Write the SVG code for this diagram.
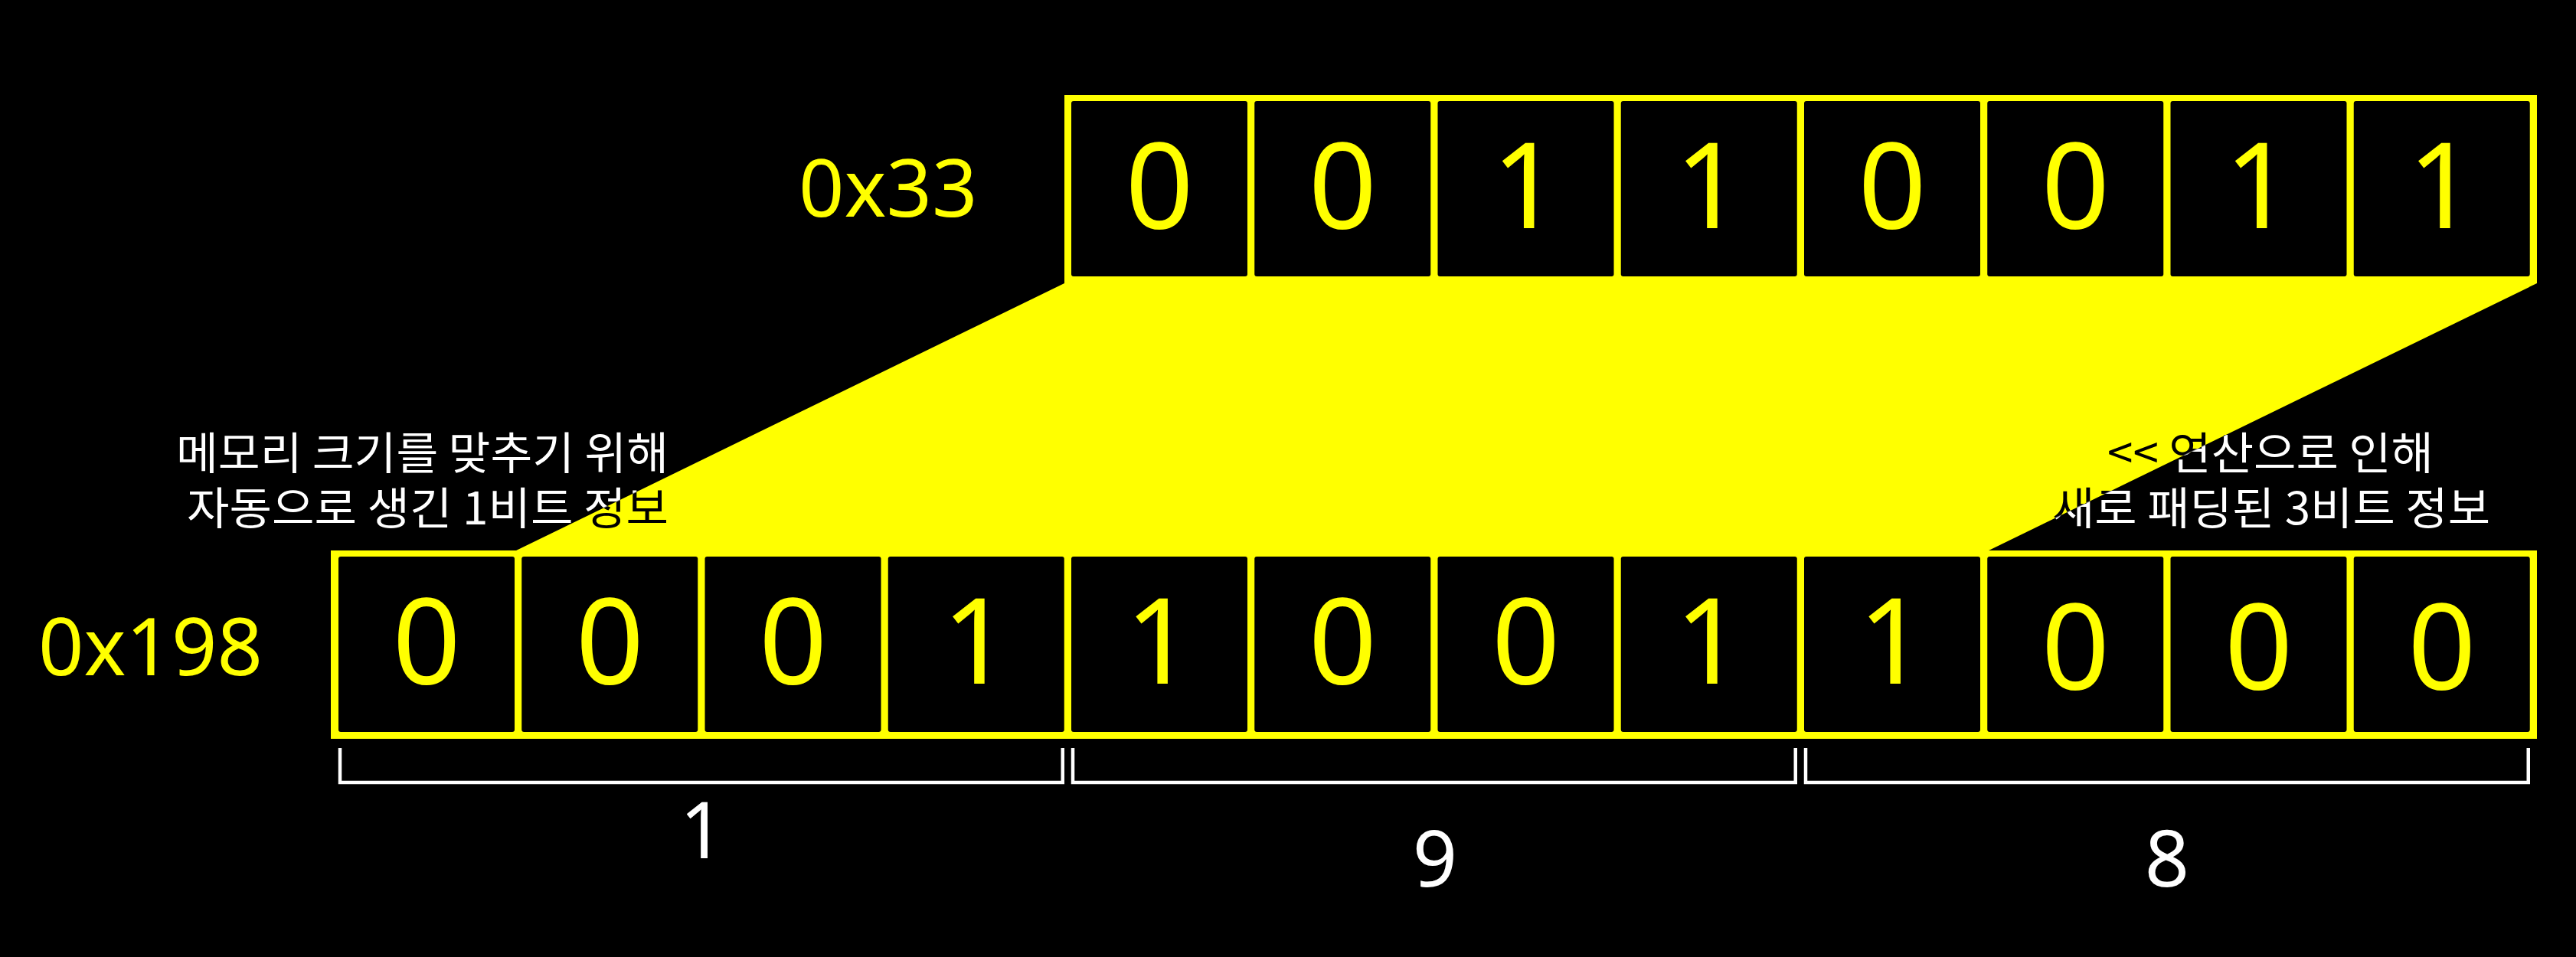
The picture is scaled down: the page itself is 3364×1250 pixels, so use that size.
<svg xmlns="http://www.w3.org/2000/svg" width="3364" height="1250" viewBox="0 0 3364 1250">
<defs>
<style>
.frame{fill:#ffff00}
.cell{fill:#000}
.bit{font-family:"Noto Sans","Liberation Sans",sans-serif;font-size:156px;fill:#ffff00;text-anchor:middle}
.hex{font-family:"Noto Sans","Liberation Sans",sans-serif;font-size:104px;fill:#ffff00}
.num{font-family:"Noto Sans","Liberation Sans",sans-serif;font-size:102px;fill:#fff;text-anchor:middle}
.note{font-family:"Noto Sans CJK KR","Noto Sans",sans-serif;font-size:58px;fill:url(#inv)}
.brk{fill:none;stroke:#fff;stroke-width:4.5}
</style>
<pattern id="inv" patternUnits="userSpaceOnUse" x="0" y="0" width="3364" height="1250">
<rect width="3364" height="1250" fill="#fff"/>
<polygon points="1390,370 3313,370 2595,720 672,720" fill="#000"/>
</pattern>
</defs>
<rect width="3364" height="1250" fill="#000"/>
<g id="connectors">
<polygon id="shift" points="1390,370 3313,370 2595,720 672,720" fill="#ffff00"/>
</g>
<g id="row-0x33">
<rect class="frame" x="1390" y="124" width="1923" height="246"/>
<rect class="cell" x="1399" y="132" width="230" height="229" rx="3"/>
<rect class="cell" x="1638.25" y="132" width="230" height="229" rx="3"/>
<rect class="cell" x="1877.5" y="132" width="230" height="229" rx="3"/>
<rect class="cell" x="2116.75" y="132" width="230" height="229" rx="3"/>
<rect class="cell" x="2356" y="132" width="230" height="229" rx="3"/>
<rect class="cell" x="2595.25" y="132" width="230" height="229" rx="3"/>
<rect class="cell" x="2834.5" y="132" width="230" height="229" rx="3"/>
<rect class="cell" x="3073.75" y="132" width="230" height="229" rx="3"/>
<text class="bit" x="1514" y="298">0</text>
<text class="bit" x="1753.25" y="298">0</text>
<text class="bit" x="1992.5" y="298">1</text>
<text class="bit" x="2231.75" y="298">1</text>
<text class="bit" x="2471" y="298">0</text>
<text class="bit" x="2710.25" y="298">0</text>
<text class="bit" x="2949.5" y="298">1</text>
<text class="bit" x="3188.75" y="298">1</text>
</g>
<g id="label-0x33"><text class="hex" x="1043" y="283">0x33</text></g>
<g id="row-0x198">
<rect class="frame" x="432" y="719" width="2881" height="246"/>
<rect class="cell" x="442" y="727" width="230" height="229" rx="3"/>
<rect class="cell" x="681.25" y="727" width="230" height="229" rx="3"/>
<rect class="cell" x="920.5" y="727" width="230" height="229" rx="3"/>
<rect class="cell" x="1159.75" y="727" width="230" height="229" rx="3"/>
<rect class="cell" x="1399" y="727" width="230" height="229" rx="3"/>
<rect class="cell" x="1638.25" y="727" width="230" height="229" rx="3"/>
<rect class="cell" x="1877.5" y="727" width="230" height="229" rx="3"/>
<rect class="cell" x="2116.75" y="727" width="230" height="229" rx="3"/>
<rect class="cell" x="2356" y="727" width="230" height="229" rx="3"/>
<rect class="cell" x="2595.25" y="727" width="230" height="229" rx="3"/>
<rect class="cell" x="2834.5" y="727" width="230" height="229" rx="3"/>
<rect class="cell" x="3073.75" y="727" width="230" height="229" rx="3"/>
<text class="bit" x="557" y="893">0</text>
<text class="bit" x="796.25" y="893">0</text>
<text class="bit" x="1035.5" y="893">0</text>
<text class="bit" x="1274.75" y="893">1</text>
<text class="bit" x="1514" y="893">1</text>
<text class="bit" x="1753.25" y="893">0</text>
<text class="bit" x="1992.5" y="893">0</text>
<text class="bit" x="2231.75" y="893">1</text>
<text class="bit" x="2471" y="893">1</text>
<text class="bit" x="2710.25" y="900">0</text>
<text class="bit" x="2949.5" y="900">0</text>
<text class="bit" x="3188.75" y="900">0</text>
</g>
<g id="label-0x198"><text class="hex" x="50" y="882">0x198</text></g>
<g id="note-left">
<text class="note" x="230" y="613" textLength="643" lengthAdjust="spacingAndGlyphs">메모리 크기를 맞추기 위해</text>
<text class="note" x="244" y="685" textLength="629" lengthAdjust="spacingAndGlyphs">자동으로 생긴 1비트 정보</text>
</g>
<g id="note-right">
<text class="note" x="2752" y="613" textLength="426" lengthAdjust="spacingAndGlyphs">&lt;&lt; 연산으로 인해</text>
<text class="note" x="2680" y="685" textLength="572" lengthAdjust="spacingAndGlyphs">새로 패딩된 3비트 정보</text>
</g>
<g id="brackets">
<path class="brk" d="M444 977V1022H1387.75V977"/>
<path class="brk" d="M1401 977V1022H2344.75V977"/>
<path class="brk" d="M2358 977V1022H3301.75V977"/>
</g>
<g id="group-labels">
<text class="num" x="917" y="1121">1</text>
<text class="num" x="1874" y="1158">9</text>
<text class="num" x="2830" y="1158">8</text>
</g>
</svg>
